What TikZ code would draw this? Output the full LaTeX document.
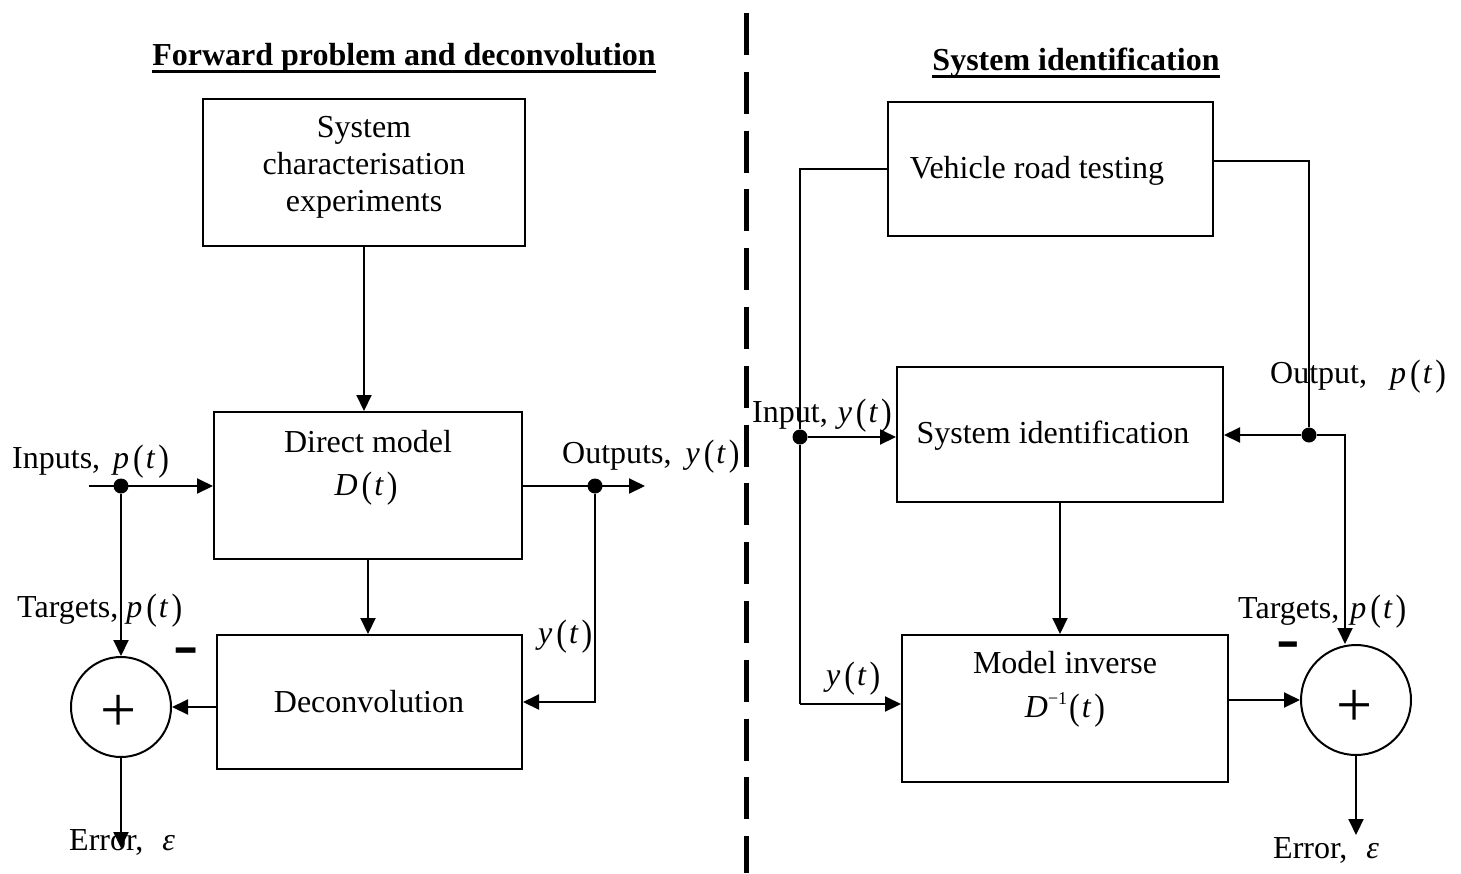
\documentclass[tikz,border=0pt]{standalone}
\usepackage{fontspec}
\setmainfont{Liberation Serif}
\usepackage{graphicx}
\usetikzlibrary{arrows.meta}

% slightly enlarged parentheses for function arguments such as p(t)
\newcommand\bigpar[1]{\raisebox{-2.5pt}{\scalebox{1}[1.15]{#1}}}
\newcommand\fnof[2]{\textit{#1}\kern4pt\bigpar{(}\kern2pt\textit{#2}\kern3pt\bigpar{)}}

\tikzset{
  every node/.style={inner sep=0pt, font=\fontsize{32}{37}\selectfont},
  box/.style={draw, line width=2pt, inner sep=0pt},
  wire/.style={line width=2pt},
  thinwire/.style={line width=1.3pt},
  arr/.style={wire, -{Triangle[length=16pt,width=15pt]}},
  dot/.style={circle, fill, minimum size=15pt},
  sumnode/.style={circle, draw, line width=2pt},
  lbl/.style={anchor=base west},
  txt/.style={anchor=base},
  heading/.style={anchor=base, font=\fontsize{32}{37}\selectfont\bfseries},
  minussign/.style={font=\fontsize{32}{37}\selectfont\bfseries},
}

\begin{document}
\begin{tikzpicture}[x=1pt, y=-1pt]
\fill[white] (0,0) rectangle (1461,873);
\useasboundingbox (0,0) rectangle (1461,873);

% ---------- headings ----------
\node[heading] (h1) at (404,65) {Forward problem and deconvolution};
\draw[line width=3pt] ([yshift=-6pt]h1.base west) -- ([yshift=-6pt]h1.base east);
\node[heading] (h2) at (1076,70) {System identification};
\draw[line width=3pt] ([yshift=-6pt]h2.base west) -- ([yshift=-6pt]h2.base east);

% ---------- dividing line ----------
\draw[line width=5pt, dash pattern=on 42pt off 16.8pt] (746,13) -- (746,873);

% ---------- left: forward problem ----------
\node[box, minimum width=322pt, minimum height=147pt] (b1) at (364,172.5) {};
\node[align=center] (b1t) at (364,167.6) {System\\characterisation\\experiments};

\node[box, minimum width=308pt, minimum height=147pt] (b2) at (368,485.5) {};
\node[txt] (b2t) at (368,452) {Direct model};
\node[txt] (b2m) at (366,495) {\fnof{D}{t}};

\node[box, minimum width=305pt, minimum height=134pt] (bd) at (369.5,702) {};
\node[txt] (bdt) at (369,712) {Deconvolution};

\node[sumnode, minimum size=100pt] (c1) at (121,707) {};
\node (c1p) at (119,713) {\fontsize{64}{64}\selectfont +};
\node[minussign] (m1) at (186,658) {\scalebox{1.2}[2.4]{–}};

\coordinate (inS) at (89,486);
\coordinate (outE) at (645,486);
\coordinate (errL) at (121,848);
\node[dot] (dI) at (121,486) {};
\node[dot] (dO) at (595,486) {};

\draw[arr] (b1.south) -- (b1.south |- b2.north);
\draw[arr] (inS) -- (inS -| b2.west);
\draw[arr] (b2.east |- dO) -- (outE);
\draw[arr] (dO) |- (bd.east);
\draw[arr] (b2.south) -- (b2.south |- bd.north);
\draw[arr] (dI) -- (c1.north);
\draw[arr] (c1.center -| bd.west) -- (c1.east);
\draw[arr] (c1.south) -- (errL);

\node[lbl] (lIn) at (12,468) {Inputs,\hspace{13pt}\fnof{p}{t}};
\node[lbl] (lOut) at (562,463) {Outputs,\hspace{14pt}\fnof{y}{t}};
\node[lbl] (lTg) at (17,617) {Targets,\hspace{8pt}\fnof{p}{t}};
\node[lbl] (lyt) at (538,643) {\fnof{y}{t}};
\node[lbl] (lEr) at (69,850) {Error,\hspace{19pt}\textit{ε}};

% ---------- right: system identification ----------
\node[box, minimum width=325pt, minimum height=134pt] (bv) at (1050.5,169) {};
\node[txt] (bvt) at (1037,178) {Vehicle road testing};

\node[box, minimum width=326pt, minimum height=135pt] (bs) at (1060,434.5) {};
\node[txt] (bst) at (1053,443) {System identification};

\node[box, minimum width=326pt, minimum height=147pt] (bi) at (1065,708.5) {};
\node[txt] (bit) at (1065,673) {Model inverse};
\node[txt] (bim) at (1065,717) {\textit{D}\raisebox{13pt}{\fontsize{18}{18}\selectfont −1}\kern2pt\bigpar{(}\kern2pt\textit{t}\kern3pt\bigpar{)}};

\node[sumnode, minimum size=110pt] (c2) at (1356,700) {};
\node (c2p) at (1355,708) {\fontsize{64}{64}\selectfont +};
\node[minussign] (m2) at (1288,652) {\scalebox{1.1}[2.4]{–}};

\coordinate (vR) at (1213,161);
\coordinate (cornerL) at (800,704);
\coordinate (tR) at (1345,435);
\coordinate (errR) at (1356,835);
\node[dot] (dL) at (800,437) {};
\node[dot] (dR) at (1309,435) {};

\draw[thinwire] (bv.west) -| (dL);
\draw[wire] (dL) -- (cornerL);
\draw[arr] (cornerL) -- (cornerL -| bi.west);
\draw[arr] (dL) -- (dL -| bs.west);
\draw[thinwire] (vR) -| (dR);
\draw[arr] (dR) -- (dR -| bs.east);
\draw[arr] (dR) -- (tR) -- (tR |- c2.north);
\draw[arr] (bs.south) -- (bs.south |- bi.north);
\draw[arr] (c2.center -| bi.east) -- (c2.west);
\draw[arr] (c2.south) -- (errR);

\node[lbl] (rIn) at (752,422) {Input,\hspace{10pt}\fnof{y}{t}};
\node[lbl] (rOut) at (1270,383) {Output,\hspace{23pt}\fnof{p}{t}};
\node[lbl] (rTg) at (1238,618) {Targets,\hspace{11pt}\fnof{p}{t}};
\node[lbl] (ryt) at (826,685) {\fnof{y}{t}};
\node[lbl] (rEr) at (1273,858) {Error,\hspace{19pt}\textit{ε}};
\end{tikzpicture}
\end{document}
